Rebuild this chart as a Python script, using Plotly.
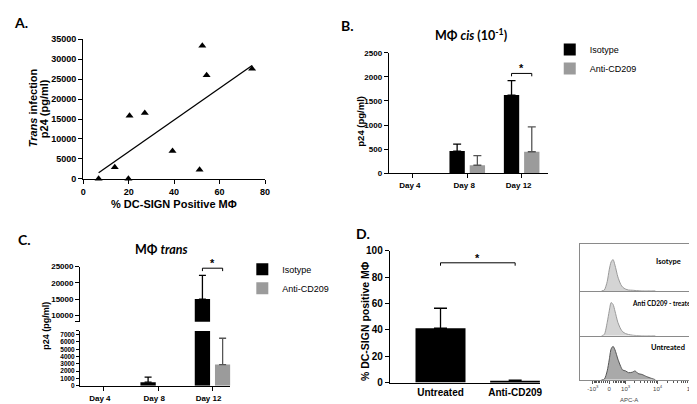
import numpy as np
import plotly.graph_objects as go

W, H = 697, 404


def fx(p):
    return p / W


def fy(p):
    return 1 - p / H


# ---------------- data ----------------
# Panel A
a_dcsign_pct = [6.8, 13.9, 19.9, 20.4, 27.1, 39.3, 51.2, 52.4, 54.3, 74.3]
a_trans_p24 = [0, 2900, 0, 15800, 16500, 7000, 2300, 33400, 26000, 27600]

# Panel B (Mphi cis)
days = ["Day 4", "Day 8", "Day 12"]
b_isotype = [0, 460, 1620]
b_isotype_sd = [0, 145, 300]
b_anti = [0, 165, 445]
b_anti_sd = [0, 200, 515]
b_sig_y = 2070

# Panel C (Mphi trans)
c_isotype = [0, 500, 15000]
c_isotype_sd = [0, 700, 7300]
c_anti = [0, 0, 2900]
c_anti_sd = [0, 0, 3600]
c_sig_y = 24500

# Panel D
d_groups = ["Untreated", "Anti-CD209"]
d_pct = [41.3, 1.5]
d_pct_sd = [15.2, 0.4]
d_sig_y = 91

# Flow histograms (APC-A intensity, % of panel height)
flow_apc = [-400, -250, -100, 0, 96, 194, 296, 458, 638, 772, 1000, 1265,
            1690, 2085, 2580, 3380, 4720, 6580, 8580]
flow_isotype = [0, 2, 20, 45, 62, 67, 55, 30, 14, 8, 4, 2, 1.5, 1, 0.5, 0, 0, 0, 0]
flow_anti = [0, 3, 30, 55, 74, 70, 55, 30, 15, 9, 5, 3, 1.5, 0.8, 0.5, 0, 0, 0, 0]
flow_untreated = [0, 1, 20, 45, 70, 76, 68, 47, 30, 22, 20, 16, 17, 20, 14, 12, 7, 3, 0]
flow_tick_vals = [-1000, 0, 1000, 10000, 100000]
flow_tick_text = ["-10<sup>3</sup>", "0", "10<sup>3</sup>", "10<sup>4</sup>", "10<sup>5</sup>"]
flow_minor_vals = ([-m * 100 for m in range(1, 10)] + [m * 100 for m in range(2, 10)] +
                   [m * 1000 for m in range(2, 10)] + [m * 10000 for m in range(2, 10)])


def biex(v):
    return (np.arcsinh(np.asarray(v, dtype=float) / 730.0) / np.log(10)).tolist()


# ---------------- styles ----------------
ARIAL = "Liberation Sans, Arial, sans-serif"
CAL = "Lato, Open Sans, sans-serif"
GRAY = "#9b9b9b"

BAR_W = 0.282
OFF_ISO = -0.327
OFF_ANTI = 0.045

fig = go.Figure()

# ---------------- Panel A ----------------
fig.add_trace(go.Scatter(
    x=a_dcsign_pct, y=a_trans_p24, mode="markers",
    marker=dict(symbol="triangle-up", size=7, color="black"),
    cliponaxis=False, showlegend=False, xaxis="x", yaxis="y"))
coef = np.polyfit(a_dcsign_pct, a_trans_p24, 1)
fit_x = [min(a_dcsign_pct), max(a_dcsign_pct)]
fit_y = np.polyval(coef, fit_x).tolist()
fig.add_trace(go.Scatter(
    x=fit_x, y=fit_y, mode="lines", line=dict(color="black", width=1.3),
    showlegend=False, xaxis="x", yaxis="y"))


# ---------------- bars helper ----------------
def nz(vals):
    # zero means no bar drawn in the source figure
    return [v if v > 0 else None for v in vals]


def err(vals, sd, color, cap):
    return dict(type="data", array=[s if v > 0 else None for v, s in zip(vals, sd)],
                arrayminus=[0 if v > 0 else None for v in vals], symmetric=False,
                color=color, thickness=1.3, width=cap)


# Panel B
fig.add_trace(go.Bar(x=days, y=nz(b_isotype), width=BAR_W, offset=OFF_ISO,
                     marker=dict(color="black", line=dict(width=0)),
                     error_y=err(b_isotype, b_isotype_sd, "black", 4),
                     name="Isotype", legend="legend", xaxis="x2", yaxis="y2"))
fig.add_trace(go.Bar(x=days, y=nz(b_anti), width=BAR_W, offset=OFF_ANTI,
                     marker=dict(color=GRAY, line=dict(width=0)),
                     error_y=err(b_anti, b_anti_sd, "#555555", 4),
                     name="Anti-CD209", legend="legend", xaxis="x2", yaxis="y2"))

# Panel C (broken axis: lower y3, upper y4)
for ya in ["y3", "y4"]:
    first = ya == "y3"
    fig.add_trace(go.Bar(x=days, y=nz(c_isotype), width=BAR_W, offset=OFF_ISO,
                         marker=dict(color="black", line=dict(width=0)),
                         error_y=err(c_isotype, c_isotype_sd, "black", 3.5),
                         name="Isotype", legend="legend2", showlegend=first,
                         xaxis="x3", yaxis=ya))
    fig.add_trace(go.Bar(x=days, y=nz(c_anti), width=BAR_W, offset=OFF_ANTI,
                         marker=dict(color=GRAY, line=dict(width=0)),
                         error_y=err(c_anti, c_anti_sd, "#555555", 3.5),
                         name="Anti-CD209", legend="legend2", showlegend=first,
                         xaxis="x3", yaxis=ya))

# Panel D
fig.add_trace(go.Bar(x=d_groups, y=d_pct, width=0.67,
                     marker=dict(color="black", line=dict(width=0)),
                     error_y=err(d_pct, d_pct_sd, "black", 6.5),
                     showlegend=False, xaxis="x4", yaxis="y5"))

# Flow histograms
flow_x = biex(flow_apc)
for counts, xa, ya, fill, line in [
    (flow_isotype, "x5", "y6", "#d4d4d4", "#999999"),
    (flow_anti, "x6", "y7", "#d4d4d4", "#999999"),
    (flow_untreated, "x7", "y8", "#a9a9a9", "#555555"),
]:
    fig.add_trace(go.Scatter(x=flow_x, y=counts, mode="lines", fill="tozeroy",
                             fillcolor=fill, line=dict(color=line, width=1, shape="spline", smoothing=0.7),
                             showlegend=False, xaxis=xa, yaxis=ya))

# ---------------- axes ----------------
axis_common = dict(showline=True, linecolor="black", linewidth=1.3, ticks="outside",
                   ticklen=4, tickwidth=1, tickcolor="black", showgrid=False, zeroline=False,
                   fixedrange=True, tickformat="d")


def tf(size):
    return dict(family=ARIAL, size=size, color="black", weight="bold")


layout = dict(
    width=W, height=H, autosize=False, margin=dict(l=0, r=0, t=0, b=0),
    paper_bgcolor="white", plot_bgcolor="white", barmode="overlay",
    # A
    xaxis=dict(axis_common, domain=[fx(73), fx(257)], range=[0, 80], tickvals=[0, 20, 40, 60, 80],
               anchor="y", tickfont=tf(9)),
    yaxis=dict(axis_common, domain=[fy(170), fy(27)], range=[0, 35000], dtick=5000,
               anchor="x", tickfont=tf(9)),
    # B
    xaxis2=dict(axis_common, type="category", categoryarray=days, range=[-0.44, 2.48],
                domain=[fx(382.3), fx(543)], anchor="y2", tickfont=tf(8), ticklabelshift=-3),
    yaxis2=dict(axis_common, domain=[fy(164.3), fy(40.7)], range=[0, 2500], dtick=500,
                anchor="x2", tickfont=tf(8)),
    # C
    xaxis3=dict(axis_common, type="category", categoryarray=days, range=[-0.436, 2.33],
                domain=[fx(70), fx(222)], anchor="y3", tickfont=tf(8), ticklabelshift=-4),
    yaxis3=dict(axis_common, domain=[fy(382.3), fy(326)], range=[0, 7500],
                tickvals=[0, 1000, 2000, 3000, 4000, 5000, 6000, 7000, 7500],
                ticktext=["0", "1000", "2000", "3000", "4000", "5000", "6000", "7000", " "],
                anchor="x3", tickfont=tf(6.5), ticklen=3),
    yaxis4=dict(axis_common, domain=[fy(316.7), fy(260)], range=[8000, 25000],
                tickvals=[8000, 10000, 15000, 20000, 25000],
                ticktext=[" ", "10000", "15000", "20000", "25000"],
                anchor="x3", tickfont=tf(8)),
    # D
    xaxis4=dict(axis_common, type="category", categoryarray=d_groups, range=[-0.678, 1.331],
                domain=[fx(383.3), fx(535)], anchor="y5", ticks="", tickfont=tf(10)),
    yaxis5=dict(axis_common, domain=[fy(379), fy(244)], range=[0, 100], dtick=20,
                anchor="x4", tickfont=tf(10)),
)

flow_range = [-0.857, 2.7]
flow_y = [(237, 285), (285, 331), (331, 376)]
for i, (top, bot) in enumerate(flow_y):
    xn, yn = 5 + i, 6 + i
    last = i == 2
    xa = dict(showline=True, linecolor="#8a8a8a", linewidth=1, showgrid=False, zeroline=False,
              range=flow_range, domain=[fx(576), 1.0], anchor="y%d" % yn, fixedrange=True,
              mirror=(i == 0), showticklabels=last, ticks="outside" if last else "")
    if last:
        xa.update(tickvals=biex(flow_tick_vals), ticktext=flow_tick_text, ticklen=3,
                  tickcolor="#555555", tickfont=dict(family=ARIAL, size=6, color="#444444"),
                  minor=dict(tickmode="array", tickvals=biex(flow_minor_vals), ticks="outside",
                             ticklen=2, tickcolor="#555555"))
    layout["xaxis%d" % xn] = xa
    layout["yaxis%d" % yn] = dict(showline=True, linecolor="#8a8a8a", linewidth=1, showgrid=False,
                                  zeroline=False, showticklabels=False, ticks="", range=[0, 100],
                                  domain=[fy(bot), fy(top)], anchor="x%d" % xn, fixedrange=True)

layout["legend"] = dict(x=fx(545), y=fy(22.5), xanchor="left", yanchor="top",
                        font=dict(family=ARIAL, size=9, color="black"), bgcolor="rgba(0,0,0,0)",
                        tracegroupgap=0, itemclick=False)
layout["legend2"] = dict(x=fx(234), y=fy(248), xanchor="left", yanchor="top",
                         font=dict(family=ARIAL, size=9, color="black"), bgcolor="rgba(0,0,0,0)",
                         tracegroupgap=0, itemclick=False)

fig.update_layout(**layout)


# ---------------- significance brackets ----------------
def bracket(xref, yref, x0, x1, y, drop):
    return [
        dict(type="line", xref=xref, yref=yref, x0=x0, x1=x1, y0=y, y1=y, line=dict(color="black", width=1)),
        dict(type="line", xref=xref, yref=yref, x0=x0, x1=x0, y0=y, y1=y - drop, line=dict(color="black", width=1)),
        dict(type="line", xref=xref, yref=yref, x0=x1, x1=x1, y0=y, y1=y - drop, line=dict(color="black", width=1)),
    ]


iso_c = OFF_ISO + BAR_W / 2
anti_c = OFF_ANTI + BAR_W / 2
shapes = []
shapes += bracket("x2", "y2", 2 + iso_c, 2 + anti_c, b_sig_y, 60)
shapes += bracket("x3", "y4", 2 + iso_c, 2 + anti_c, c_sig_y, 900)
shapes += bracket("x4", "y5", 0, 1, d_sig_y, 2.2)
fig.update_layout(shapes=shapes)

ann = []


def star(xref, yref, x, y):
    ann.append(dict(xref=xref, yref=yref, x=x, y=y, text="*", showarrow=False, yanchor="bottom",
                    font=dict(family=ARIAL, size=11, color="black", weight="bold"), yshift=-3))


star("x2", "y2", 2 + (iso_c + anti_c) / 2, b_sig_y)
star("x3", "y4", 2 + (iso_c + anti_c) / 2, c_sig_y)
star("x4", "y5", 0.5, d_sig_y)


def txt(x, y, text, size, family=ARIAL, angle=0, xanchor="center", color="black", bold=True):
    ann.append(dict(xref="paper", yref="paper", x=fx(x), y=fy(y), text=text, showarrow=False,
                    xanchor=xanchor, yanchor="middle", textangle=angle,
                    font=dict(family=family, size=size, color=color, weight="bold" if bold else "normal")))


# panel letters
txt(1, 10, "A.", 14, CAL, xanchor="left")
txt(332, 13, "B.", 14, CAL, xanchor="left")
txt(5, 232, "C.", 14, CAL, xanchor="left")
txt(347, 226, "D.", 14, CAL, xanchor="left")

# titles
txt(465, 22, "MΦ <i>cis</i> (10<sup>-1</sup>)", 12.5, CAL)
txt(152, 243, "MΦ <i>trans</i>", 12.5, CAL)

# axis titles
txt(22, 97, "<i>Trans</i> infection", 11, angle=-90)
txt(33, 98, "p24 (pg/ml)", 11, angle=-90)
txt(165, 196, "% DC-SIGN Positive MΦ", 11)
txt(353.5, 111, "p24 (pg/ml)", 9.5, angle=-90)
txt(35, 321, "p24 (pg/ml)", 9, angle=-90)
txt(358, 316, "% DC-SIGN positive MΦ", 10.5, angle=-90)

# flow labels
txt(665, 255, "Isotype", 7.5, CAL)
txt(660, 298, "Anti CD209 - treated", 6.5, CAL)
txt(665, 343, "Untreated", 7.5, CAL)
txt(625, 397, "APC-A", 6, ARIAL, color="#444444", bold=False)

fig.update_layout(annotations=ann)

fig.write_html("out.html")
